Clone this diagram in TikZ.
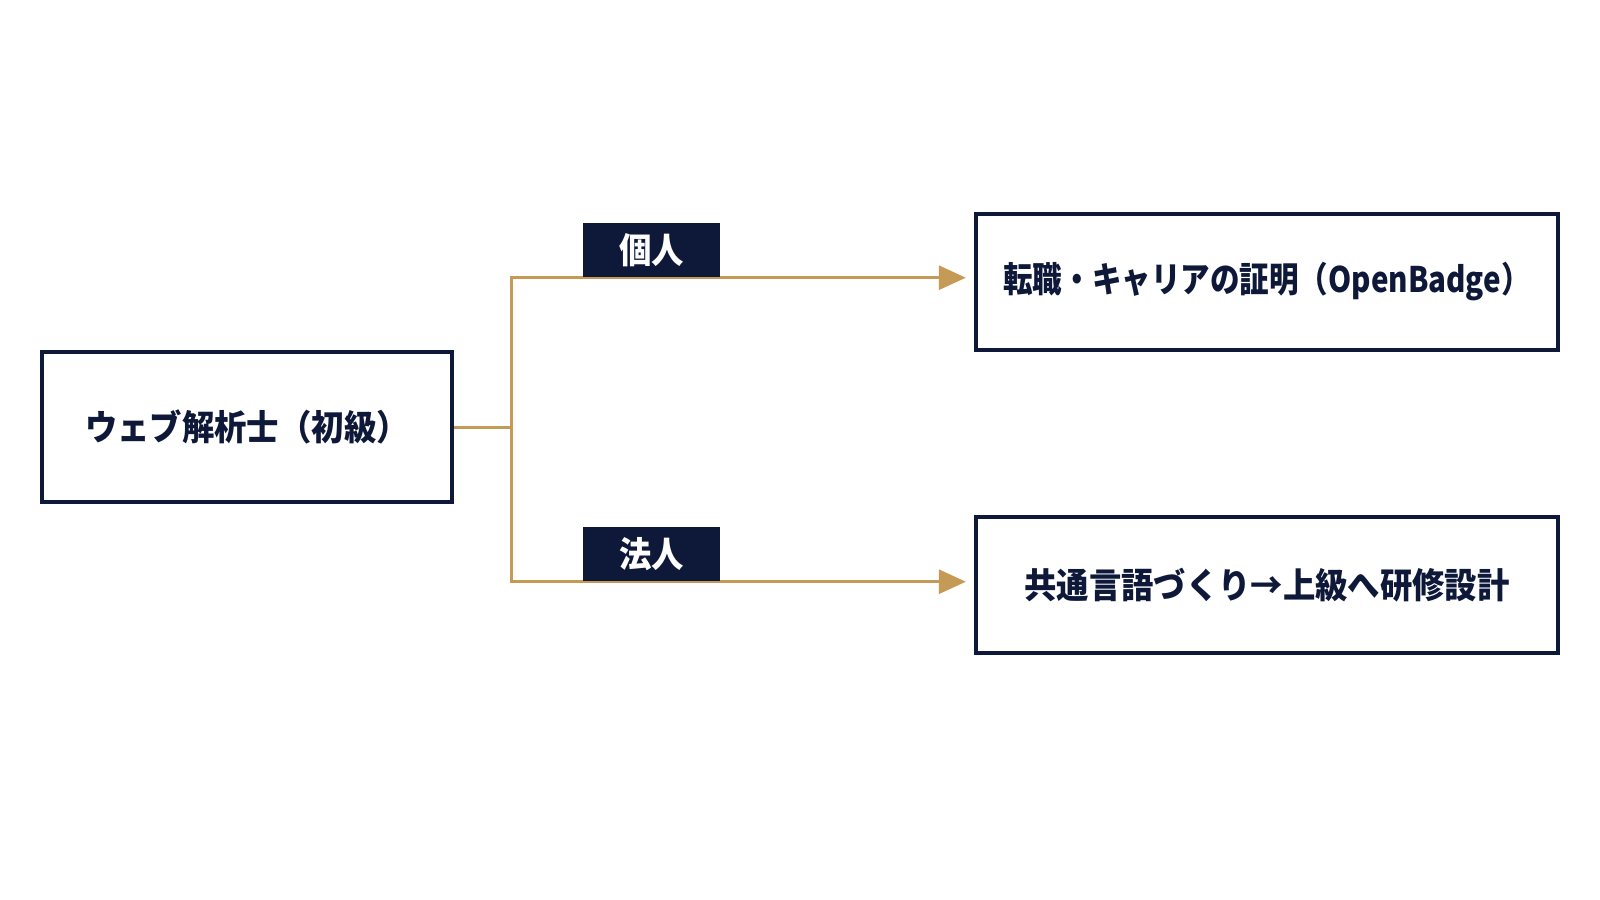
\documentclass[tikz,border=0pt]{standalone}
\usepackage{fontspec}
\setmainfont{Noto Sans CJK JP}[FakeStretch=0.92]
\newfontfamily\narrowjp{Noto Sans CJK JP}[FakeStretch=0.84]
\usepackage{tikz}
\usetikzlibrary{arrows.meta,backgrounds}
\definecolor{navy}{HTML}{0E1838}
\definecolor{gold}{HTML}{C49A55}

\begin{document}
\begin{tikzpicture}[x=0.01cm, y=-0.01cm, >={Triangle[length=0.27cm,width=0.24cm]},
    box/.style={draw=navy, line width=0.04cm, fill=white, text=navy, inner sep=0pt,
        font=\bfseries\fontsize{10pt}{12pt}\selectfont},
    tag/.style={fill=navy, text=white, inner sep=0pt, minimum width=1.37cm, minimum height=0.54cm,
        font=\bfseries\fontsize{10pt}{12pt}\selectfont},
    flow/.style={draw=gold, line width=0.03cm}]
        \useasboundingbox (0,0) rectangle (1600,900);

        % Boxes
        \node[box, minimum width=4.09cm, minimum height=1.50cm] (root) at (247,427) {ウェブ解析士（初級）};
        \node[box, minimum width=5.82cm, minimum height=1.36cm] (career) at (1267,282) {\narrowjp 転職・キャリアの証明（OpenBadge）};
        \node[box, minimum width=5.82cm, minimum height=1.36cm] (training) at (1267,585) {共通言語づくり→上級へ研修設計};

        % Tags on the branches
        \node[tag] (persontag) at (651.5,250) {個人};
        \node[tag] (corptag) at (651.5,554) {法人};

        % Branching connectors
        \coordinate (split) at (511,427);
        \begin{scope}[on background layer]
            \draw[flow] (root.east) -- (split);
            \draw[flow, ->, shorten >=0.08cm] (split) |- (career.west |- persontag.south);
            \draw[flow, ->, shorten >=0.08cm] (split) |- (training.west |- corptag.south);
        \end{scope}
    \end{tikzpicture}
\end{document}
